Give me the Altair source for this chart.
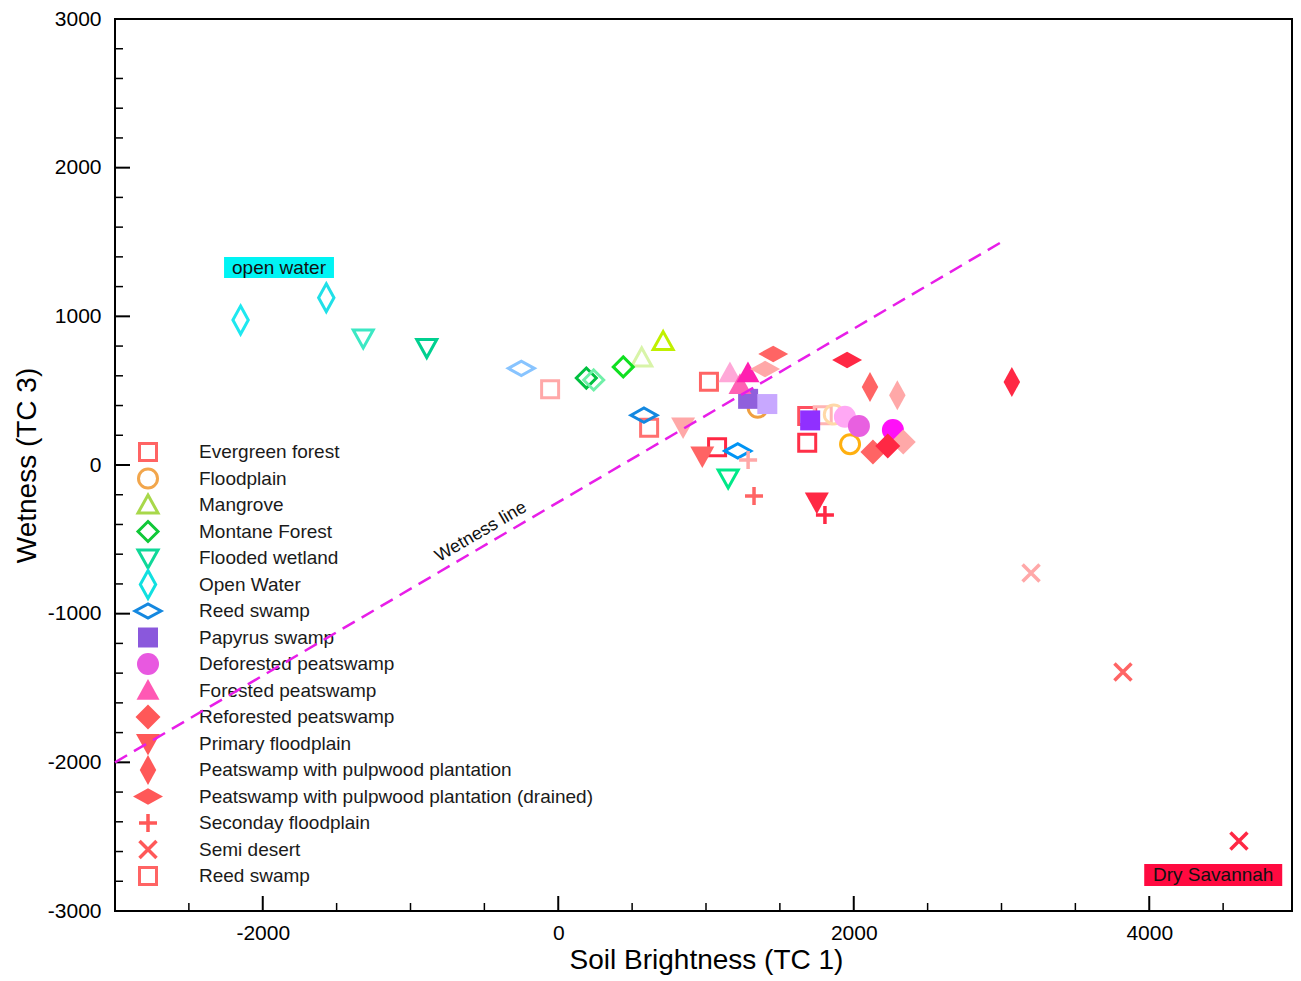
import altair as alt
import pandas as pd

# ---------------- data ----------------
series_keys = ["evergreen", "floodplain", "mangrove", "montane", "flooded", "openwater",
               "reed", "papyrus", "deforested", "forested", "reforested", "primary",
               "pulpwood", "drained", "secondary", "semidesert", "reed_sq"]
series_labels = ["Evergreen forest", "Floodplain", "Mangrove", "Montane Forest", "Flooded wetland",
                 "Open Water", "Reed swamp", "Papyrus swamp", "Deforested peatswamp",
                 "Forested peatswamp", "Reforested peatswamp", "Primary floodplain",
                 "Peatswamp with pulpwood plantation", "Peatswamp with pulpwood plantation (drained)",
                 "Seconday floodplain", "Semi desert", "Reed swamp"]

pt_series = ["evergreen"] * 7 + ["floodplain"] * 3 + ["mangrove"] * 2 + ["montane"] * 3 + \
            ["flooded"] * 3 + ["openwater"] * 2 + ["reed"] * 3 + ["papyrus"] * 3 + \
            ["deforested"] * 3 + ["forested"] * 3 + ["reforested"] * 3 + ["primary"] * 3 + \
            ["pulpwood"] * 3 + ["drained"] * 3 + ["secondary"] * 3 + ["semidesert"] * 3
pt_x = [-55, 615, 1020, 1075, 1685, 1685, 1790,
        1350, 1865, 1975,
        565, 710,
        190, 240, 440,
        -1320, -890, 1150,
        -2150, -1570,
        -250, 580, 1215,
        1285, 1415, 1705,
        1940, 2035, 2265,
        1162, 1230, 1284,
        2335, 2130, 2230,
        845, 975, 1750,
        2110, 2295, 3070,
        1455, 1400, 1955,
        1285, 1325, 1805,
        3200, 3822, 4607]
pt_y = [510, 250, 560, 120, 150, 330, 335,
        385, 340, 140,
        720, 830,
        585, 572, 660,
        855, 790, -87,
        975, 1125,
        650, 335, 95,
        445, 410, 300,
        325, 262, 235,
        619, 540, 619,
        155, 87, 128,
        255, 60, -250,
        525, 470, 558,
        747, 645, 706,
        34, -208, -336,
        -726, -1392, -2529]

wet_x = [-3000, 3000]
wet_y = [-2000, 1500]

box_x1 = [-2262, 3966]
box_x2 = [-1518, 4900]
box_y1 = [1258, -2832]
box_y2 = [1399, -2684]
ann_text = ["open water", "Dry Savannah"]
ann_x = [-1890, 4433]
ann_y = [1328, -2758]

wl_text = ["Wetness line"]
wl_x = [-523]
wl_y = [-451]

x_major = [-2000, 0, 2000, 4000]
x_minor = [-2500, -1500, -1000, -500, 500, 1000, 1500, 2500, 3000, 3500, 4500]
y_major = [-2000, -1000, 0, 1000, 2000]
y_minor = [-2800, -2600, -2400, -2200, -1800, -1600, -1400, -1200, -800, -600, -400, -200,
           200, 400, 600, 800, 1200, 1400, 1600, 1800, 2200, 2400, 2600, 2800]
y_labels = [-3000, -2000, -1000, 0, 1000, 2000, 3000]

# ---------------- styles ----------------
SQ = "M-1,-1L1,-1L1,1L-1,1Z"
TRI_UP = "M0,-1L1,0.8L-1,0.8Z"
TRI_DN = "M-1,-0.8L1,-0.8L0,1Z"
DIA = "M0,-1L1,0L0,1L-1,0Z"
DIA_TALL = "M0,-1L0.55,0L0,1L-0.55,0Z"
DIA_WIDE = "M-1,0L0,-0.55L1,0L0,0.55Z"
PLUS = "M-1,0L1,0M0,-1L0,1"
XMARK = "M-1,-1L1,1M-1,1L1,-1"

# shape, filled, size, strokeWidth
MARKER = {
    "evergreen": (SQ, False, 289, 3),
    "floodplain": ("circle", False, 361, 3),
    "mangrove": (TRI_UP, False, 400, 3),
    "montane": (DIA, False, 400, 3),
    "flooded": (TRI_DN, False, 400, 3),
    "openwater": (DIA_TALL, False, 784, 3),
    "reed": (DIA_WIDE, False, 676, 3),
    "papyrus": (SQ, True, 400, 0),
    "deforested": ("circle", True, 484, 0),
    "forested": (TRI_UP, True, 529, 0),
    "reforested": (DIA, True, 625, 0),
    "primary": (TRI_DN, True, 576, 0),
    "pulpwood": (DIA_TALL, True, 900, 0),
    "drained": (DIA_WIDE, True, 900, 0),
    "secondary": (PLUS, False, 324, 3.5),
    "semidesert": (XMARK, False, 289, 3.5),
    "reed_sq": (SQ, False, 289, 3),
}
LEGEND_COLOR = {
    "evergreen": "#FF6464", "floodplain": "#F2A64C", "mangrove": "#A8D84A", "montane": "#10C838",
    "flooded": "#10D898", "openwater": "#10E0E0", "reed": "#1488E0", "papyrus": "#8A58DC",
    "deforested": "#E858E0", "forested": "#FF58B4", "reforested": "#FF5858", "primary": "#FF5858",
    "pulpwood": "#FF5858", "drained": "#FF5858", "secondary": "#FF5858", "semidesert": "#FF5858",
    "reed_sq": "#FF6464",
}
LIGHT, MID, DARK = "#FFA8A8", "#FF6464", "#FF2844"
POINT_COLORS = {
    "evergreen": [LIGHT, "#FF7070", MID, DARK, "#FF3048", "#FF5060", "#FFB4B4"],
    "floodplain": ["#F0A040", "#FFD8A8", "#FFB010"],
    "mangrove": ["#D8F4A8", "#C0F000"],
    "montane": ["#00C040", "#70F0A8", "#10E020"],
    "flooded": ["#3CE8C4", "#00D090", "#00E888"],
    "openwater": ["#1EE8F0", "#20E0E8"],
    "reed": ["#88C4FF", "#1488E0", "#0094F4"],
    "papyrus": ["#9060DC", "#C8A8FF", "#9030FF"],
    "deforested": ["#FFA8F4", "#E860E0", "#FF10F8"],
    "forested": ["#FFA8D8", "#FF60B4", "#FF20B0"],
    "reforested": [LIGHT, MID, DARK],
    "primary": [LIGHT, MID, DARK],
    "pulpwood": [MID, LIGHT, DARK],
    "drained": [MID, LIGHT, DARK],
    "secondary": [LIGHT, MID, DARK],
    "semidesert": [LIGHT, MID, DARK],
}

FONT = "Liberation Sans"
W, H = 1177, 892
X_MAX = -3000 + W * 8000 / 1182  # same data-to-pixel ratio as the reference

# ---------------- tables ----------------
rows = []
count = {}
for s, x, y in zip(pt_series, pt_x, pt_y):
    i = count.get(s, 0)
    count[s] = i + 1
    shape, filled, size, sw = MARKER[s]
    col = POINT_COLORS[s][i]
    rows.append(dict(x=x, y=y, shape=shape, fill=col if filled else "transparent",
                     stroke=col, sw=sw, size=size))
pts_df = pd.DataFrame(rows)

leg_rows = []
for i, (k, lab) in enumerate(zip(series_keys, series_labels)):
    shape, filled, size, sw = MARKER[k]
    col = LEGEND_COLOR[k]
    leg_rows.append(dict(row=i, label=lab, shape=shape, fill=col if filled else "transparent",
                         stroke=col, sw=sw, size=size))
leg_df = pd.DataFrame(leg_rows)

xs = alt.Scale(domain=[-3000, X_MAX], nice=False, zero=False)
ys = alt.Scale(domain=[-3000, 3000], nice=False, zero=False)
X = alt.X("x:Q", scale=xs, axis=alt.Axis(
    orient="bottom", values=x_major, title="Soil Brightness (TC 1)", ticks=False, tickSize=0,
    domain=False, grid=False, labelFontSize=21, labelPadding=11, labelExpr="'' + datum.value",
    titleFontSize=28, titlePadding=3, titleX=591))
Y = alt.Y("y:Q", scale=ys, axis=alt.Axis(
    orient="left", values=y_labels, title="Wetness (TC 3)", ticks=False, tickSize=0,
    domain=False, grid=False, labelFontSize=21, labelPadding=14, labelExpr="'' + datum.value",
    titleFontSize=28, titlePadding=6))

boxes = alt.Chart(pd.DataFrame({"x": box_x1, "x2": box_x2, "y": box_y1, "y2": box_y2,
                                "c": ["#00F4F4", "#FF0A40"]})).mark_rect().encode(
    x=X, x2="x2:Q", y=Y, y2="y2:Q", color=alt.Color("c:N", scale=None))
ann = alt.Chart(pd.DataFrame({"x": ann_x, "y": ann_y, "t": ann_text})).mark_text(
    font=FONT, fontSize=19, color="#111111").encode(x=X, y=Y, text="t:N")

xmaj = alt.Chart(pd.DataFrame({"x": x_major})).mark_rule(color="black", strokeWidth=2).encode(
    x=X, y=alt.value(H), y2=alt.value(H - 15))
xmin = alt.Chart(pd.DataFrame({"x": x_minor})).mark_rule(color="black", strokeWidth=1.5).encode(
    x=X, y=alt.value(H), y2=alt.value(H - 8))
ymaj = alt.Chart(pd.DataFrame({"y": y_major})).mark_rule(color="black", strokeWidth=2).encode(
    y=Y, x=alt.value(0), x2=alt.value(15))
ymin = alt.Chart(pd.DataFrame({"y": y_minor})).mark_rule(color="black", strokeWidth=1.5).encode(
    y=Y, x=alt.value(0), x2=alt.value(8))

sym_enc = dict(
    shape=alt.Shape("shape:N", scale=None),
    fill=alt.Fill("fill:N", scale=None),
    stroke=alt.Stroke("stroke:N", scale=None),
    strokeWidth=alt.StrokeWidth("sw:Q", scale=None),
    size=alt.Size("size:Q", scale=None),
)
points = alt.Chart(pts_df).mark_point(opacity=1).encode(x=X, y=Y, **sym_enc)

wline = alt.Chart(pd.DataFrame({"x": wet_x, "y": wet_y})).mark_line(
    color="#E81EE8", strokeWidth=2.5, strokeDash=[14, 8]).encode(x=X, y=Y)
wtext = alt.Chart(pd.DataFrame({"x": wl_x, "y": wl_y, "t": wl_text})).mark_text(
    font=FONT, fontSize=18, color="#111111", angle=329.6).encode(x=X, y=Y, text="t:N")

main = alt.layer(boxes, ann, xmaj, xmin, ymaj, ymin, points, wline, wtext)

LY = alt.Y("row:O", scale=alt.Scale(type="point", range=[433, 857], padding=0), axis=None)
leg_sym = alt.Chart(leg_df).mark_point(opacity=1).encode(x=alt.value(33), y=LY, **sym_enc)
leg_txt = alt.Chart(leg_df).mark_text(align="left", font=FONT, fontSize=19, color="#1a1a1a").encode(
    x=alt.value(84), y=LY, text="label:N")
legend = alt.layer(leg_sym, leg_txt)

chart = alt.layer(legend, main).resolve_scale(y="independent").properties(
    width=W, height=H,
    autosize=alt.AutoSizeParams(type="none"),
    padding={"left": 107, "top": 11, "right": 1, "bottom": 66},
    background="white",
).configure_view(stroke="black", strokeWidth=2).configure_axis(
    labelFont=FONT, titleFont=FONT, titleFontWeight="normal", labelColor="black", titleColor="black")

chart.save("out.html", embed_options={"renderer": "svg", "actions": False})
